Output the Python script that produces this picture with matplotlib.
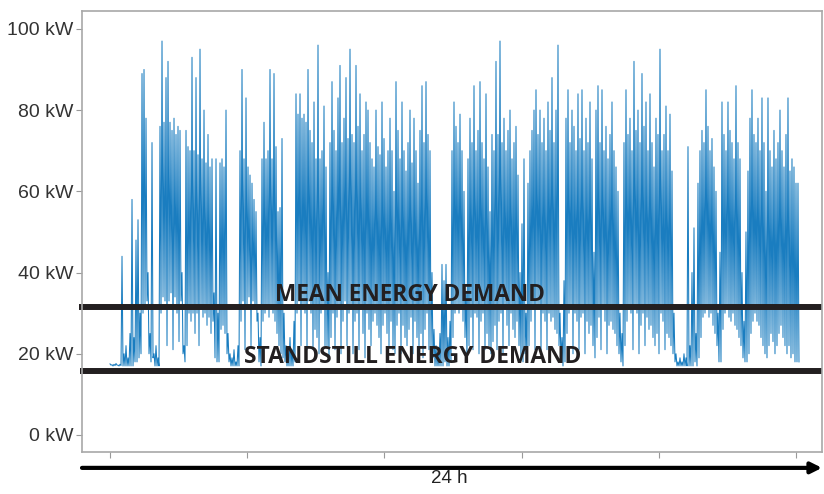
import numpy as np
import matplotlib.pyplot as plt

# machine power draw over one day, read off the picture as alternating
# peak / trough samples (kW)
peak_kw = [
    17.5, 17.3, 17.4, 17.6, 17.2, 17.4, 44, 20, 22, 19,
    25, 58, 24, 48, 53, 30, 89, 90, 78, 40,
    25, 72, 20, 22, 19, 76, 97, 77, 88, 92,
    77, 75, 78, 74, 76, 75, 40, 22, 75, 71,
    70, 93, 70, 88, 69, 95, 68, 80, 67, 74,
    66, 68, 35, 68, 30, 67, 68, 66, 80, 25,
    20, 19, 21, 18, 22, 70, 90, 68, 83, 66,
    64, 62, 58, 55, 30, 24, 68, 77, 68, 70,
    90, 68, 89, 71, 55, 56, 73, 30, 22, 20,
    24, 21, 28, 84, 79, 84, 78, 79, 77, 90,
    75, 72, 82, 68, 96, 68, 70, 81, 66, 40,
    72, 87, 75, 70, 83, 91, 72, 78, 88, 73,
    95, 74, 72, 91, 76, 84, 70, 74, 82, 80,
    72, 68, 66, 80, 71, 69, 82, 73, 66, 70,
    78, 70, 60, 87, 75, 68, 82, 70, 65, 72,
    80, 67, 78, 70, 62, 75, 86, 72, 87, 74,
    70, 40, 26, 22, 20, 25, 42, 38, 42, 24,
    28, 70, 82, 76, 72, 79, 70, 60, 35, 68,
    78, 72, 86, 70, 75, 87, 72, 68, 84, 66,
    55, 74, 70, 92, 74, 97, 72, 78, 70, 75,
    80, 68, 72, 76, 64, 40, 52, 68, 30, 62,
    70, 75, 80, 85, 74, 80, 72, 78, 70, 82,
    75, 88, 72, 80, 96, 30, 24, 38, 78, 85,
    72, 80, 76, 70, 84, 73, 85, 70, 78, 72,
    82, 68, 45, 80, 86, 72, 85, 70, 76, 68,
    74, 82, 70, 66, 60, 30, 25, 72, 85, 74,
    78, 70, 92, 75, 80, 72, 89, 76, 82, 70,
    84, 72, 66, 78, 74, 95, 70, 74, 81, 70,
    79, 65, 30, 20, 18, 19, 18, 20, 19, 71,
    22, 40, 51, 25, 62, 70, 75, 72, 85, 76,
    70, 73, 66, 60, 30, 45, 82, 74, 70, 82,
    75, 72, 68, 86, 72, 68, 40, 28, 50, 65,
    78, 85, 74, 72, 78, 70, 83, 72, 60, 83,
    70, 66, 75, 68, 72, 80, 70, 66, 74, 83,
    65, 68, 66, 62, 62,
]
trough_kw = [
    17.2, 17.0, 17.1, 17.2, 17.0, 17.1, 17, 17, 17, 17,
    17, 17, 18, 18, 19, 20, 30, 32, 33, 20,
    18, 19, 17, 17, 17, 30, 34, 33, 22, 33,
    35, 21, 34, 30, 23, 33, 20, 18, 22, 30,
    28, 30, 25, 30, 22, 31, 29, 30, 27, 29,
    25, 28, 19, 18, 18, 26, 27, 25, 20, 18,
    17, 17, 17, 17, 17, 28, 33, 21, 32, 34,
    22, 33, 31, 28, 18, 17, 28, 30, 31, 29,
    32, 30, 28, 25, 22, 20, 19, 18, 17, 17,
    17, 17, 18, 30, 33, 22, 32, 30, 21, 33,
    30, 21, 26, 24, 20, 30, 31, 22, 22, 19,
    24, 30, 21, 29, 32, 20, 28, 33, 22, 30,
    32, 20, 28, 30, 21, 31, 25, 19, 30, 26,
    22, 28, 30, 27, 24, 20, 27, 30, 25, 22,
    28, 21, 20, 27, 30, 20, 27, 24, 22, 26,
    29, 20, 28, 24, 22, 25, 19, 26, 30, 21,
    22, 19, 17, 17, 17, 17, 17, 18, 17, 17,
    18, 24, 30, 32, 30, 31, 28, 24, 19, 22,
    29, 21, 30, 29, 20, 28, 30, 21, 25, 22,
    20, 23, 27, 21, 28, 30, 20, 31, 27, 22,
    30, 26, 24, 28, 22, 19, 18, 20, 18, 22,
    28, 31, 21, 32, 31, 20, 30, 28, 21, 30,
    28, 29, 26, 25, 22, 18, 17, 18, 25, 30,
    31, 20, 30, 28, 21, 29, 30, 20, 28, 25,
    27, 22, 19, 24, 29, 21, 31, 28, 20, 27,
    28, 26, 25, 22, 20, 18, 17, 22, 28, 31,
    30, 21, 31, 30, 20, 27, 30, 22, 29, 26,
    27, 24, 22, 25, 20, 30, 28, 21, 25, 24,
    22, 20, 18, 17, 17, 17, 17, 17, 17, 17,
    17, 17, 18, 17, 19, 24, 29, 30, 31, 29,
    30, 27, 25, 22, 18, 18, 26, 30, 31, 29,
    28, 30, 27, 26, 24, 22, 19, 18, 18, 20,
    25, 28, 30, 28, 27, 24, 22, 20, 19, 22,
    25, 23, 20, 22, 25, 27, 24, 22, 20, 22,
    19, 20, 18, 18, 18,
]
mean_kw = 31.4
standstill_kw = 15.8
ytick_vals = [0, 20, 40, 60, 80, 100]
ytick_labels = ['0 kW', '20 kW', '40 kW', '60 kW', '80 kW', '100 kW']
xtick_vals = [0, 4.8, 9.6, 14.4, 19.2, 24]

# interleave peaks and troughs into one sample stream
power = np.empty(2 * len(peak_kw))
power[0::2] = peak_kw
power[1::2] = trough_kw
dt = 24 / 686  # hours per sample
t = np.arange(len(power)) * dt

plt.rcParams['font.family'] = ['Liberation Sans', 'DejaVu Sans']

fig = plt.figure(figsize=(8.24, 4.94), dpi=100)
ax = fig.add_axes([82 / 824, 42 / 494, 740 / 824, 441 / 494])

ax.plot(t, power, color='#1a7dc0', lw=0.75)

dark = '#231f20'
ax.axhline(mean_kw, xmin=-0.004, xmax=1, color=dark, lw=4.3,
           solid_capstyle='butt', clip_on=False)
ax.axhline(standstill_kw, xmin=-0.003, xmax=1, color=dark, lw=4.3,
           solid_capstyle='butt', clip_on=False)

ax.annotate('MEAN ENERGY DEMAND', xy=(0.443, mean_kw),
            xycoords=('axes fraction', 'data'), xytext=(0, 5),
            textcoords='offset points', ha='center', va='baseline',
            fontsize=16.3, fontweight='bold', family='Open Sans', color=dark)
ax.annotate('STANDSTILL ENERGY DEMAND', xy=(0.447, standstill_kw),
            xycoords=('axes fraction', 'data'), xytext=(0, 5.8),
            textcoords='offset points', ha='center', va='baseline',
            fontsize=16.4, fontweight='bold', family='Open Sans', color=dark)

ax.set_xlim(-0.98, 24.91)
ax.set_ylim(-4.19, 104.4)
ax.set_yticks(ytick_vals)
ax.set_yticklabels(ytick_labels)
ax.set_xticks(xtick_vals)
ax.set_xticklabels([])
ax.tick_params(axis='y', length=4, color='#999999', labelsize=14,
               labelcolor='#333333', pad=2)
ax.tick_params(axis='x', length=4, color='#999999')
for s in ax.spines.values():
    s.set_color('#a8a8a8')
    s.set_linewidth(1.2)

# time arrow under the axes
ax.annotate('', xy=(1.0, -0.036), xytext=(0, -0.036),
            xycoords='axes fraction',
            arrowprops=dict(arrowstyle='-|>', lw=3, color='black',
                            mutation_scale=16, shrinkA=0, shrinkB=0),
            annotation_clip=False)
ax.text(0.497, -0.06, '24 h', transform=ax.transAxes, ha='center',
        va='center', fontsize=13.5, color='#222222')

fig.savefig('out.png', dpi=100)
